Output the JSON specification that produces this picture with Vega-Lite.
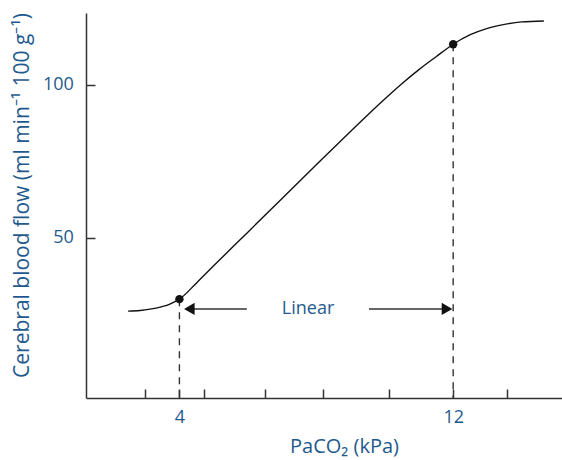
{
  "$schema": "https://vega.github.io/schema/vega-lite/v6.json",
  "width": 476,
  "height": 385,
  "autosize": {"type": "none"},
  "padding": {"left": 86, "top": 13, "right": 0, "bottom": 62},
  "background": "white",
  "config": {"view": {"stroke": null}, "font": "Open Sans"},
  "datasets": {
    "curve": [
      {"x": 2.50, "y": 26.1},
      {"x": 2.85, "y": 26.3},
      {"x": 3.23, "y": 26.9},
      {"x": 3.72, "y": 28.4},
      {"x": 4.00, "y": 30.0},
      {"x": 4.50, "y": 35.3},
      {"x": 5.00, "y": 40.9},
      {"x": 6.00, "y": 51.9},
      {"x": 7.00, "y": 62.9},
      {"x": 8.00, "y": 73.9},
      {"x": 9.00, "y": 84.8},
      {"x": 10.00, "y": 95.4},
      {"x": 10.50, "y": 100.4},
      {"x": 11.00, "y": 105.0},
      {"x": 11.50, "y": 109.2},
      {"x": 12.00, "y": 113.3},
      {"x": 12.50, "y": 116.4},
      {"x": 13.00, "y": 118.5},
      {"x": 13.50, "y": 119.8},
      {"x": 14.00, "y": 120.6},
      {"x": 14.65, "y": 120.9}
    ],
    "marks": [
      {"x": 4, "y": 30.0, "ybase": -2.3},
      {"x": 12, "y": 113.3, "ybase": -2.3}
    ],
    "arrows": [
      {"x": 5.97, "x2": 4.29, "y": 26.8, "head": 4.29, "shape": "triangle-left"},
      {"x": 9.54, "x2": 11.82, "y": 26.8, "head": 11.82, "shape": "triangle-right"}
    ],
    "label": [
      {"x": 7.76, "y": 26.8, "text": "Linear"}
    ]
  },
  "layer": [
    {
      "data": {"name": "curve"},
      "mark": {"type": "line", "interpolate": "monotone", "stroke": "#111111", "strokeWidth": 1.4},
      "encoding": {
        "x": {
          "field": "x", "type": "quantitative",
          "scale": {"domain": [1.27, 15.18], "nice": false, "zero": false},
          "axis": {
            "orient": "bottom",
            "values": [3, 4, 4.72, 6.49, 8.19, 10.12, 12, 13.57],
            "labelExpr": "datum.value == 4 || datum.value == 12 ? datum.label : ''",
            "grid": false,
            "tickSize": -9,
            "tickWidth": 1.5,
            "tickColor": "#333333",
            "domainColor": "#333333",
            "domainWidth": 1.5,
            "labelFont": "Open Sans",
            "labelFontSize": 18,
            "labelColor": "#1f5a8e",
            "labelPadding": 19.5,
            "title": "PaCO₂ (kPa)",
            "titleFont": "Open Sans",
            "titleFontSize": 20,
            "titleFontWeight": "normal",
            "titleColor": "#1f5a8e",
            "titleX": 258,
            "titleY": 38,
            "titleBaseline": "top"
          }
        },
        "y": {
          "field": "y", "type": "quantitative",
          "scale": {"domain": [-2.3, 123.5], "nice": false, "zero": false},
          "axis": {
            "values": [50, 100],
            "grid": false,
            "tickSize": -9,
            "tickWidth": 1.5,
            "tickColor": "#333333",
            "domainColor": "#333333",
            "domainWidth": 1.5,
            "labelFont": "Open Sans",
            "labelFontSize": 18,
            "labelColor": "#1f5a8e",
            "labelPadding": 21.7,
            "title": "Cerebral blood flow (ml min⁻¹ 100 g⁻¹)",
            "titleFont": "Open Sans",
            "titleFontSize": 21,
            "titleFontWeight": "normal",
            "titleColor": "#1f5a8e",
            "titleX": -64,
            "titleY": 182,
            "titleBaseline": "middle"
          }
        }
      }
    },
    {
      "data": {"name": "marks"},
      "mark": {"type": "rule", "strokeDash": [7, 6], "stroke": "#333333", "strokeWidth": 1.4},
      "encoding": {
        "x": {"field": "x", "type": "quantitative"},
        "y": {"field": "y", "type": "quantitative"},
        "y2": {"field": "ybase"}
      }
    },
    {
      "data": {"name": "marks"},
      "mark": {"type": "point", "filled": true, "size": 70, "color": "#111111", "opacity": 1},
      "encoding": {
        "x": {"field": "x", "type": "quantitative"},
        "y": {"field": "y", "type": "quantitative"}
      }
    },
    {
      "data": {"name": "arrows"},
      "mark": {"type": "rule", "stroke": "#333333", "strokeWidth": 1.4},
      "encoding": {
        "x": {"field": "x", "type": "quantitative"},
        "x2": {"field": "x2"},
        "y": {"field": "y", "type": "quantitative"}
      }
    },
    {
      "data": {"name": "arrows"},
      "mark": {"type": "point", "filled": true, "size": 150, "color": "#111111", "opacity": 1},
      "encoding": {
        "x": {"field": "head", "type": "quantitative"},
        "y": {"field": "y", "type": "quantitative"},
        "shape": {"field": "shape", "type": "nominal", "scale": null}
      }
    },
    {
      "data": {"name": "label"},
      "mark": {"type": "text", "font": "Open Sans", "fontSize": 18, "color": "#1f5a8e", "baseline": "middle", "align": "center"},
      "encoding": {
        "x": {"field": "x", "type": "quantitative"},
        "y": {"field": "y", "type": "quantitative"},
        "text": {"field": "text"}
      }
    }
  ]
}
